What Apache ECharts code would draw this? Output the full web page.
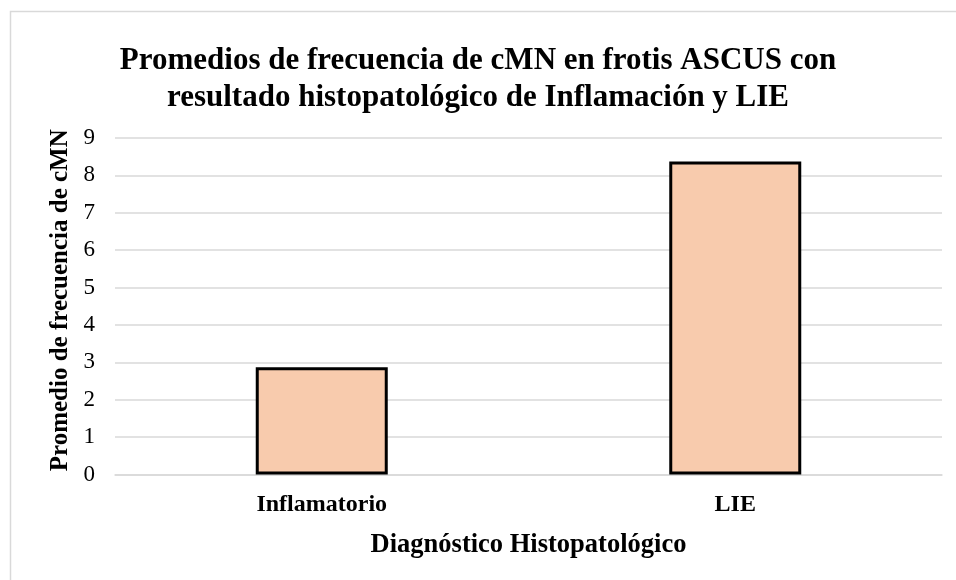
<!DOCTYPE html>
<html>
<head>
<meta charset="utf-8">
<script src="https://cdn.jsdelivr.net/npm/echarts@6/dist/echarts.min.js"></script>
<style>html,body{margin:0;padding:0;background:#fff}#c{width:956px;height:580px}</style>
</head>
<body>
<div id="c"></div>
<script>
const categories = ['Inflamatorio', 'LIE'];
const values = [2.87, 8.37];
const yTicks = [0, 9, 1];
const titleText = 'Promedios de frecuencia de cMN en frotis ASCUS con\nresultado histopatológico de Inflamación y LIE';
const yName = 'Promedio de frecuencia de cMN';
const xName = 'Diagnóstico Histopatológico';

const chart = echarts.init(document.getElementById('c'));
const serif = '"Liberation Serif", "Times New Roman", serif';
chart.setOption({
  animation: false,
  backgroundColor: '#fff',
  graphic: [{
    type: 'rect', shape: {x: 10.5, y: 11.5, width: 980, height: 600},
    style: {fill: 'none', stroke: '#d9d9d9', lineWidth: 1.5}, silent: true
  }],
  title: {
    text: titleText, left: 'center', top: 37,
    textStyle: {fontFamily: serif, fontWeight: 'bold', fontSize: 31, color: '#000', lineHeight: 37}
  },
  grid: {left: 115, right: 14, top: 138, bottom: 105.5, containLabel: false},
  xAxis: {
    type: 'category', data: categories,
    name: xName, nameLocation: 'middle', nameGap: 57,
    nameTextStyle: {fontFamily: serif, fontWeight: 'bold', fontSize: 26.5, color: '#000'},
    axisLine: {lineStyle: {color: '#d9d9d9', width: 1.5}},
    axisTick: {show: false},
    axisLabel: {fontFamily: serif, fontWeight: 'bold', fontSize: 24, color: '#000', margin: 18}
  },
  yAxis: {
    type: 'value', min: yTicks[0], max: yTicks[1], interval: yTicks[2],
    name: yName, nameLocation: 'middle', nameGap: 42,
    nameTextStyle: {fontFamily: serif, fontWeight: 'bold', fontSize: 25, color: '#000', padding: [0, 0, 0, 12]},
    axisLine: {show: false}, axisTick: {show: false},
    axisLabel: {fontFamily: serif, fontSize: 23, color: '#000', margin: 20},
    splitLine: {lineStyle: {color: '#d9d9d9', width: 1.5}}
  },
  series: [{
    type: 'bar', data: values, barWidth: 132,
    itemStyle: {color: '#f8cbad', borderColor: '#000', borderWidth: 3}
  }]
});
</script>
</body>
</html>
